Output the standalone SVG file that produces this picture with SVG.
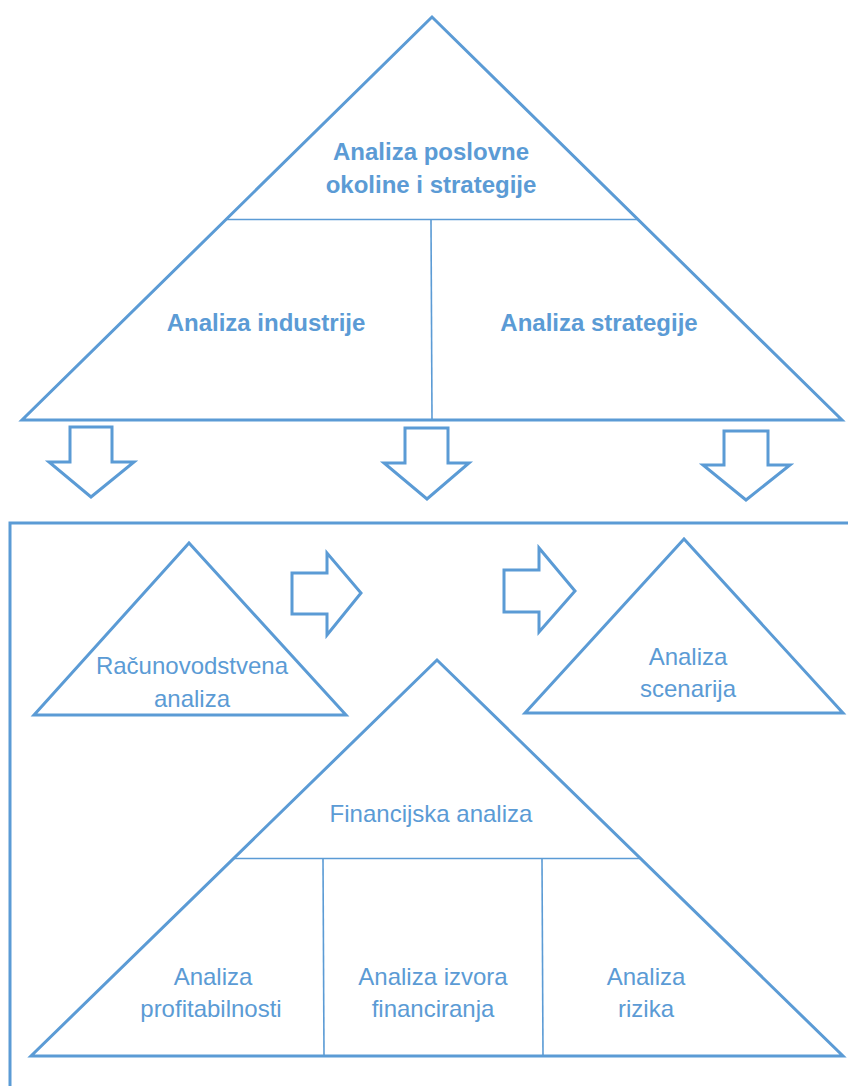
<svg xmlns="http://www.w3.org/2000/svg" width="848" height="1086" viewBox="0 0 848 1086">
<style>
.tri{fill:#fff;stroke:#5B9BD5;stroke-width:3;stroke-linejoin:miter}
.div{stroke:#5B9BD5;stroke-width:1.6;fill:none}
.arr{fill:#fff;stroke:#5B9BD5;stroke-width:3;stroke-linejoin:miter}
.frame{fill:none;stroke:#5B9BD5;stroke-width:3}
.b{font-family:"Liberation Sans",Arial,sans-serif;font-size:24px;font-weight:bold;fill:#5B9BD5;text-anchor:middle}
.r{font-family:"Liberation Sans",Arial,sans-serif;font-size:24px;fill:#5B9BD5;text-anchor:middle}
</style>
<rect width="848" height="1086" fill="#fff"/>
<g id="frame"><rect class="frame" x="10" y="523" width="900" height="700"/></g>
<g id="top-pyramid">
<polygon class="tri" points="432,17 22,420 842,420"/>
<line class="div" x1="227" y1="219.5" x2="637" y2="219.5"/>
<line class="div" x1="431" y1="220" x2="432" y2="420"/>
<text class="b" x="431" y="160">Analiza poslovne</text>
<text class="b" x="431" y="193">okoline i strategije</text>
<text class="b" x="266" y="331">Analiza industrije</text>
<text class="b" x="599" y="331">Analiza strategije</text>
</g>
<g id="racunovodstvena">
<polygon class="tri" points="189,543 34,715 346,715"/>
<text class="r" x="192" y="674">Računovodstvena</text>
<text class="r" x="192" y="707">analiza</text>
</g>
<g id="scenarija">
<polygon class="tri" points="684,539 525,713 843,713"/>
<text class="r" x="688" y="665">Analiza</text>
<text class="r" x="688" y="697">scenarija</text>
</g>
<g id="financijska">
<polygon class="tri" points="437,660 31,1056 843,1056"/>
<line class="div" x1="234" y1="858.5" x2="640" y2="858.5"/>
<line class="div" x1="323" y1="859" x2="324" y2="1056"/>
<line class="div" x1="542" y1="859" x2="543" y2="1056"/>
<text class="r" x="431" y="822">Financijska analiza</text>
<text class="r" x="213" y="985">Analiza</text>
<text class="r" x="211" y="1017">profitabilnosti</text>
<text class="r" x="433" y="985">Analiza izvora</text>
<text class="r" x="433" y="1017">financiranja</text>
<text class="r" x="646" y="985">Analiza</text>
<text class="r" x="646" y="1017">rizika</text>
</g>
<g id="connectors">
<polygon class="arr" points="70,427 112,427 112,462 134,462 91,497 49,462 70,462"/>
<polygon class="arr" points="405,428 448,428 448,463 469,463 427,499 384,463 405,463"/>
<polygon class="arr" points="724,431 768,431 768,465 790,465 746,500 703,465 724,465"/>
<polygon class="arr" points="292,573 327,573 327,553 361,593 327,635 327,614 292,614"/>
<polygon class="arr" points="504,570 539,570 539,548 575,591 539,632 539,612 504,612"/>
</g>
</svg>
